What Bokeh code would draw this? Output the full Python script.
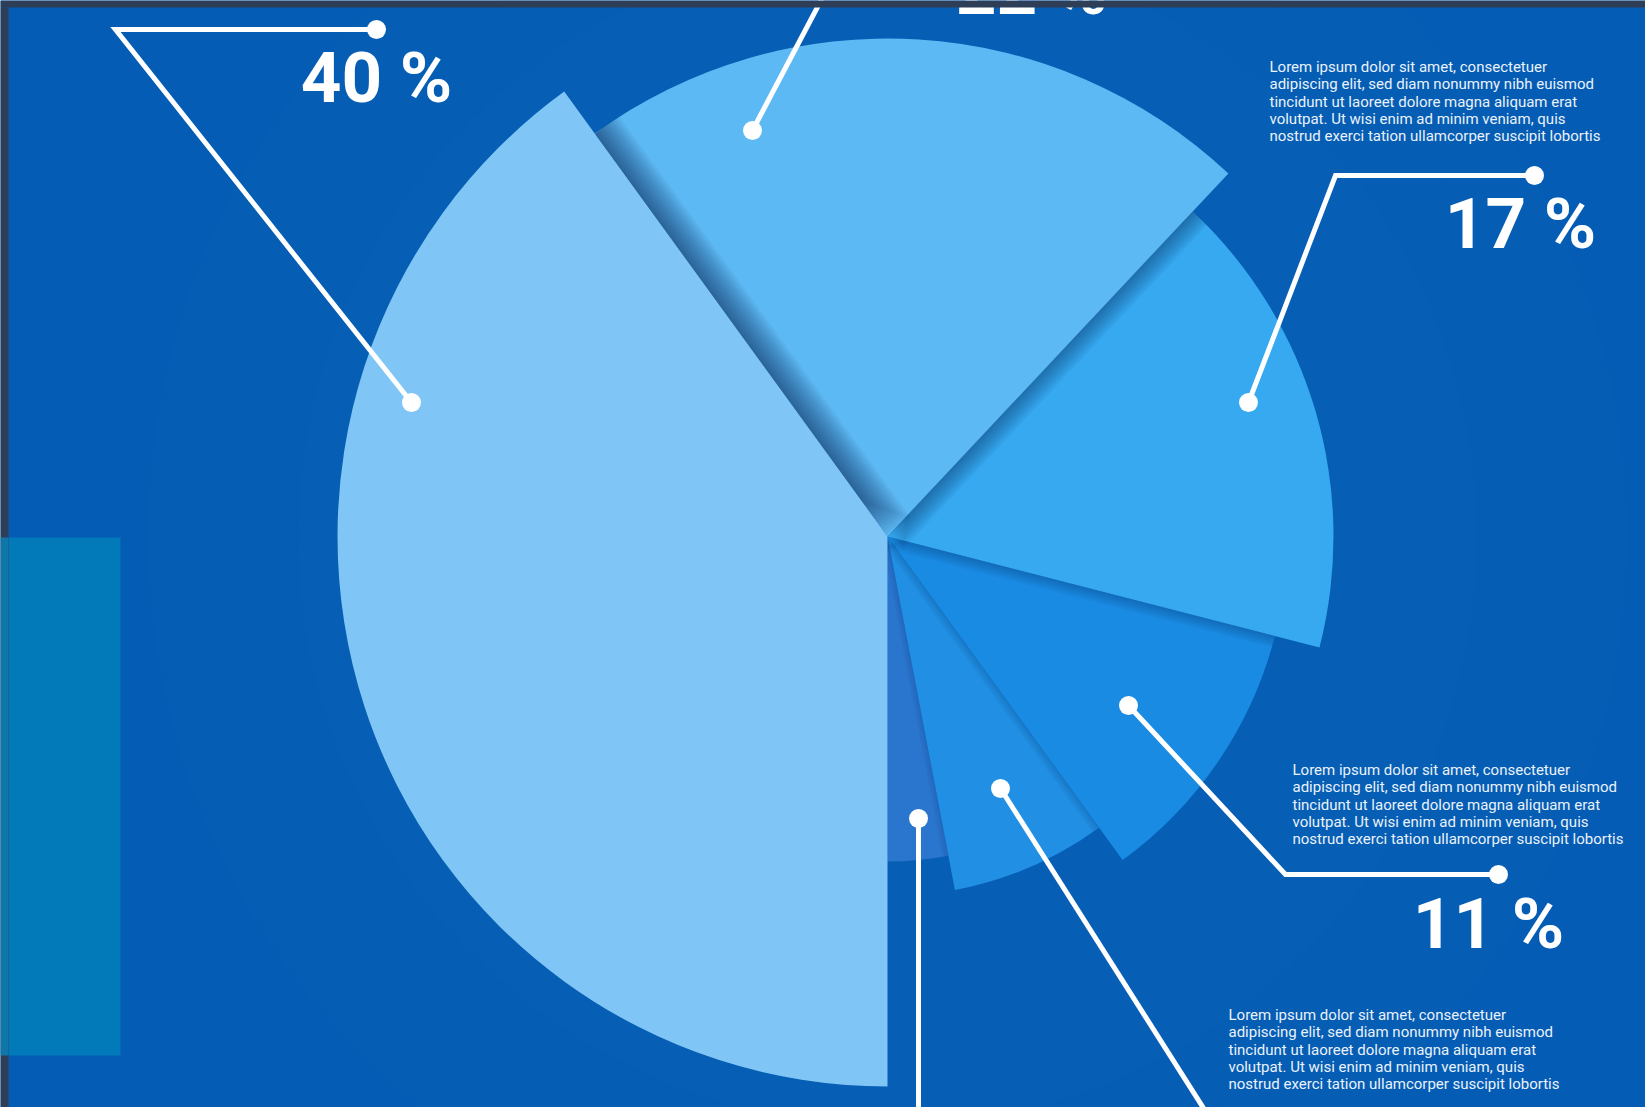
import math
from bokeh.plotting import figure
from bokeh.models import Range1d
from bokeh.embed import file_html
from bokeh.resources import INLINE
from bokeh.core.properties import value

# ---------------- data ----------------
shares = [40, 22, 17, 11, 7, 3]
labels = ["40 %", "22 %", "17 %", "11 %", "7 %", "3 %"]
lorem_lines = [
    "Lorem ipsum dolor sit amet, consectetuer",
    "adipiscing elit, sed diam nonummy nibh euismod",
    "tincidunt ut laoreet dolore magna aliquam erat",
    "volutpat. Ut wisi enim ad minim veniam, quis",
    "nostrud exerci tation ullamcorper suscipit lobortis",
]

# ---------------- layout / style ----------------
W, H = 1645, 1107
BG = "#055cb4"
FRAME_BG = "#2f3e57"
slice_colors = ["#7fc5f5", "#5db9f4", "#36a9f0", "#1a8be3", "#2190e4", "#2a76cf"]
slice_radii = [550, 498, 446, 400, 360, 325]
shadow_depth = [30, 20, 12, 8, 6, 0]
center_page = (887, 536)

# callout leader paths in page pixels (first point sits on the slice)
callout_paths = [
    [(411, 402), (115, 29), (376, 29)],
    [(752, 130), (831, -20)],
    [(1248, 402), (1335, 175), (1534, 175)],
    [(1128, 705), (1285, 874), (1498, 874)],
    [(1000, 788), (1214, 1125)],
    [(918, 818), (918, 1125)],
]
label_pos = [(376, 103), (1031, 15), (1520, 249), (1488, 949), None, None]
LABEL_FS = 71
lorem_pos = [(1269, 72), (1292, 775), (1228, 1020)]
LOREM_FS = 15
LINE_GAP = 17.3
BASELINE_FIX = 0.36  # renderer puts the alphabetic baseline ~0.36em low


def pt(X, Y):
    """page pixel -> data coordinate (1 data unit == 1 px)"""
    return X, H - Y


p = figure(width=W, height=H, x_range=Range1d(0, W), y_range=Range1d(0, H),
           output_backend="svg", toolbar_location=None, min_border=0,
           x_axis_location=None, y_axis_location=None,
           background_fill_color=BG, border_fill_color=BG,
           outline_line_color=None)
p.grid.visible = False

# left teal block
lx0, ly0 = pt(8, 1055)
lx1, ly1 = pt(120, 537)
p.quad(left=lx0, right=lx1, bottom=ly0, top=ly1, fill_color="#0279b9", line_color=None)

# subtle glow behind pie
cx, cy = pt(*center_page)
for r, a in [(740, 0.02), (660, 0.025), (590, 0.03)]:
    p.circle(x=cx, y=cy, radius=r, fill_color="#3a8ee0", fill_alpha=a, line_color=None)

# angles (clockwise from the bottom)
starts, ends = [], []
cum = 0
for s in shares:
    e = 270 - cum * 3.6
    cum += s
    st = 270 - cum * 3.6
    starts.append(st)
    ends.append(e)

n = len(shares)
# draw from the last (smallest) to the first so each slice lies over the next one
for i in range(n - 1, -1, -1):
    # shadow that slice i casts onto slice i+1
    if i < n - 1 and shadow_depth[i] > 0:
        ang = math.radians(starts[i] - 90)
        for d in range(2, shadow_depth[i] + 1, 2):
            p.wedge(x=cx + d * math.cos(ang), y=cy + d * math.sin(ang),
                    radius=slice_radii[i + 1],
                    start_angle=starts[i], end_angle=starts[i] + 35,
                    start_angle_units="deg", end_angle_units="deg",
                    direction="anticlock", fill_color="#001a40", fill_alpha=0.045,
                    line_color=None)
    p.wedge(x=cx, y=cy, radius=slice_radii[i],
            start_angle=starts[i], end_angle=ends[i],
            start_angle_units="deg", end_angle_units="deg",
            direction="anticlock", fill_color=slice_colors[i], line_color=None)

# callout leader lines and dots
for path in callout_paths:
    xs, ys = zip(*[pt(X, Y) for X, Y in path])
    p.line(list(xs), list(ys), line_color="white", line_width=5, line_join="miter")
    dots = [path[0]] + ([path[-1]] if len(path) > 2 else [])
    dx, dy = zip(*[pt(X, Y) for X, Y in dots])
    p.scatter(list(dx), list(dy), size=19, fill_color="white", line_color=None)

# percentage labels
for lab, pos in zip(labels, label_pos):
    if pos is None:
        continue
    x, y = pt(pos[0], pos[1] - BASELINE_FIX * LABEL_FS)
    p.text(x=[x], y=[y], text=[lab], text_align="center", text_baseline="alphabetic",
           text_font=value("Roboto"), text_font_size="%dpx" % LABEL_FS,
           text_font_style="bold", text_color="white")

# lorem blocks
for (X, Y) in lorem_pos:
    for k, line in enumerate(lorem_lines):
        x, y = pt(X, Y + k * LINE_GAP - BASELINE_FIX * LOREM_FS)
        p.text(x=[x], y=[y], text=[line], text_align="left", text_baseline="alphabetic",
               text_font=value("Roboto"), text_font_size="%dpx" % LOREM_FS,
               text_color="#eaf2fb")

# dark frame strips at the top and left edge (drawn over everything)
tx0, ty0 = pt(0, 7)
tx1, ty1 = pt(W, 0)
p.quad(left=tx0, right=tx1, bottom=ty0, top=ty1, fill_color=FRAME_BG, line_color=None)
sx0, sy0 = pt(0, H)
sx1, sy1 = pt(8, 7)
p.quad(left=sx0, right=sx1, bottom=sy0, top=sy1, fill_color=FRAME_BG, line_color=None)
# teal block tinting the dark strip where they overlap
p.quad(left=sx0, right=sx1, bottom=ly0, top=ly1, fill_color="#0f76a8", line_color=None)

open("out.html", "w").write(file_html(p, INLINE))
